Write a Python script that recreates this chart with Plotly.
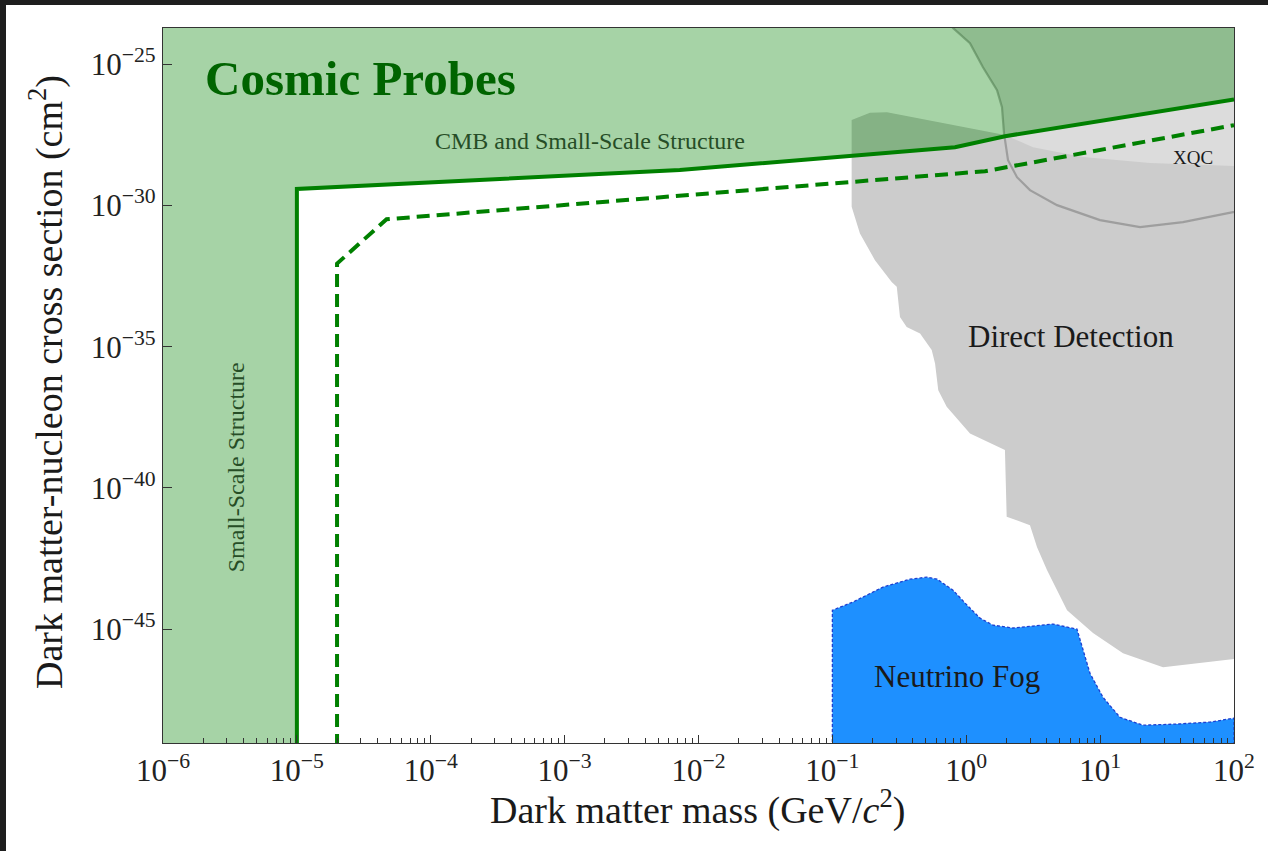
import plotly.graph_objects as go

# ---- data: log10(mass / GeV) and log10(cross section / cm^2) ----
# CMB + small-scale structure bound (solid)
cmb_logm = [-5.0, -2.14, -0.084, 0.29, 2.0]
cmb_logs = [-29.42, -28.75, -27.94, -27.55, -26.25]

# projected small-scale structure reach (dashed)
proj_logm = [-4.70, -4.33, 0.14, 2.0]
proj_logs = [-32.06, -30.49, -28.79, -27.16]

# XQC excluded-region edge
xqc_logm = [-0.16, -0.099, 0.028, 0.125, 0.230, 0.267, 0.282, 0.312, 0.379, 0.476,
            0.678, 0.999, 1.298, 1.619, 1.993, 2.2]
xqc_logs = [-23.30, -23.72, -24.26, -25.11, -25.92, -26.52, -27.44, -28.40, -29.00,
            -29.46, -29.99, -30.52, -30.77, -30.59, -30.24, -30.10]

# direct detection excluded region (closed outline)
dd_logm = [-0.856, -0.856, -0.794, -0.682, -0.557, -0.519, -0.495, -0.445, -0.345,
           -0.258, -0.233, -0.209, -0.146, 0.028, 0.289, 0.302, 0.476, 0.529, 0.603,
           0.753, 0.947, 1.171, 1.470, 1.724, 2.05, 2.05, 1.373, 0.872, 0.499, 0.289,
           -0.099, -0.592, -0.719]
dd_logs = [-26.98, -30.05, -30.99, -31.94, -32.71, -32.88, -33.95, -34.30, -34.53,
           -35.12, -35.60, -36.54, -37.13, -38.07, -38.66, -41.02, -41.32, -42.10,
           -42.91, -44.33, -45.14, -45.85, -46.35, -46.20, -46.03, -28.61, -28.50,
           -28.29, -27.94, -27.51, -27.16, -26.70, -26.72]

# neutrino fog upper edge
fog_logm = [-1.0, -0.846, -0.622, -0.42, -0.293, -0.218, -0.099, 0.006, 0.103, 0.2,
            0.349, 0.499, 0.648, 0.827, 0.872, 0.924, 1.021, 1.148, 1.32, 1.574,
            1.821, 2.0]
fog_logs = [-44.33, -44.04, -43.51, -43.23, -43.16, -43.23, -43.62, -44.15, -44.61,
            -44.86, -44.96, -44.89, -44.82, -45.0, -45.74, -46.56, -47.41, -48.12,
            -48.40, -48.36, -48.29, -48.15]

x_tick_exp = [-6, -5, -4, -3, -2, -1, 0, 1, 2]
y_tick_exp = [-45, -40, -35, -30, -25]

X_RANGE = [-6, 2]
Y_RANGE = [-49.03, -23.72]
FLOOR = 1e-52   # below the visible range
CEIL = 1e-20    # above the visible range
LEFT = 1e-8

FONT = "Liberation Serif"


def p10(vals):
    return [10.0 ** v for v in vals]


cmb_m, cmb_s = p10(cmb_logm), p10(cmb_logs)
proj_m, proj_s = p10(proj_logm), p10(proj_logs)
xqc_m, xqc_s = p10(xqc_logm), p10(xqc_logs)
dd_m, dd_s = p10(dd_logm), p10(dd_logs)
fog_m, fog_s = p10(fog_logm), p10(fog_logs)

fig = go.Figure()

# XQC region (light gray, under everything else)
fig.add_trace(go.Scatter(
    x=xqc_m + [xqc_m[-1], xqc_m[0]], y=xqc_s + [CEIL, CEIL],
    mode="lines", fill="toself", fillcolor="#dcdcdc", line=dict(width=0),
    hoverinfo="skip", showlegend=False))

# direct detection region
fig.add_trace(go.Scatter(
    x=dd_m + [dd_m[0]], y=dd_s + [dd_s[0]],
    mode="lines", fill="toself", fillcolor="#cccccc", line=dict(width=0),
    hoverinfo="skip", showlegend=False))

# XQC edge
fig.add_trace(go.Scatter(
    x=xqc_m, y=xqc_s, mode="lines",
    line=dict(color="rgba(120,120,120,0.55)", width=2.2),
    hoverinfo="skip", showlegend=False))

# cosmic probes excluded region (translucent green)
fig.add_trace(go.Scatter(
    x=[LEFT, cmb_m[0]] + cmb_m + [cmb_m[-1], LEFT],
    y=[FLOOR, FLOOR] + cmb_s + [CEIL, CEIL],
    mode="lines", fill="toself", fillcolor="rgba(0,128,0,0.35)", line=dict(width=0),
    hoverinfo="skip", showlegend=False))

# CMB + small-scale structure bound
fig.add_trace(go.Scatter(
    x=[cmb_m[0]] + cmb_m, y=[FLOOR] + cmb_s, mode="lines",
    line=dict(color="green", width=4),
    hoverinfo="skip", showlegend=False))

# projected reach
fig.add_trace(go.Scatter(
    x=[proj_m[0]] + proj_m, y=[FLOOR] + proj_s, mode="lines",
    line=dict(color="green", width=4, dash="13px,7px"),
    hoverinfo="skip", showlegend=False))

# neutrino fog
fig.add_trace(go.Scatter(
    x=[fog_m[0]] + fog_m + [fog_m[-1]], y=[FLOOR] + fog_s + [FLOOR],
    mode="lines", fill="toself", fillcolor="#1e90ff",
    line=dict(color="#1f3fd0", width=1.3, dash="3px,2px"),
    hoverinfo="skip", showlegend=False))


def tick_text(e):
    sign = "\u2212" if e < 0 else ""
    return f"10<sup>{sign}{abs(e)}</sup>"


minor_x = [k * 10.0 ** d for d in range(-6, 2) for k in range(2, 10)]

axis_common = dict(
    type="log", showgrid=False, zeroline=False,
    showline=True, linecolor="#333333", linewidth=1.3, mirror=True,
    ticks="inside", tickcolor="#333333", tickwidth=1.2,
    tickfont=dict(family=FONT, size=31, color="#222222"),
)

fig.update_xaxes(
    **axis_common, range=X_RANGE, ticklen=8,
    tickmode="array", tickvals=[10.0 ** e for e in x_tick_exp],
    ticktext=[tick_text(e) for e in x_tick_exp],
    minor=dict(ticks="inside", ticklen=4.5, tickcolor="#333333", tickwidth=1,
               tickmode="array", tickvals=minor_x, showgrid=False),
)
fig.update_yaxes(
    **axis_common, range=Y_RANGE, ticklen=9,
    tickmode="array", tickvals=[10.0 ** e for e in y_tick_exp],
    ticktext=[tick_text(e) for e in y_tick_exp],
)

labels = [
    dict(text="<b>Cosmic Probes</b>", x=-5.70, y=-25.5, xanchor="left",
         font=dict(family=FONT, size=49, color="#006400")),
    dict(text="CMB and Small-Scale Structure", x=-2.81, y=-27.73,
         font=dict(family=FONT, size=24, color="#264d26")),
    dict(text="Small-Scale Structure", x=-5.455, y=-39.27, textangle=-90,
         font=dict(family=FONT, size=24, color="#264d26")),
    dict(text="Direct Detection", x=0.782, y=-34.63,
         font=dict(family=FONT, size=31, color="#1a1a1a")),
    dict(text="Neutrino Fog", x=-0.069, y=-46.66,
         font=dict(family=FONT, size=31, color="#1a1a1a")),
    dict(text="XQC", x=1.694, y=-28.29,
         font=dict(family=FONT, size=19, color="#1a1a1a")),
]
for lab in labels:
    lab.setdefault("xanchor", "center")
    fig.add_annotation(xref="x", yref="y", yanchor="middle", showarrow=False, **lab)

# axis titles
fig.add_annotation(
    text="Dark matter mass (GeV/<i>c</i><sup>2</sup>)", xref="paper", yref="paper",
    x=(697 - 163) / 1071, y=(743 - 808) / 715, xanchor="center", yanchor="middle",
    showarrow=False, font=dict(family=FONT, size=38, color="#1a1a1a"))
fig.add_annotation(
    text="Dark matter-nucleon cross section (cm<sup>2</sup>)", xref="paper", yref="paper",
    x=(46 - 163) / 1071, y=(743 - 382) / 715, xanchor="center", yanchor="middle",
    textangle=-90, showarrow=False, font=dict(family=FONT, size=38, color="#1a1a1a"))

# dark window edges along the top and left
dark = "#1e1e1e"
fig.add_shape(type="rect", xref="paper", yref="paper", x0=-0.16, x1=(6 - 163) / 1071,
              y0=-0.2, y1=1.1, fillcolor=dark, line=dict(width=0), layer="above")
fig.add_shape(type="rect", xref="paper", yref="paper", x0=-0.16, x1=1.1,
              y0=(743 - 5) / 715, y1=1.1, fillcolor=dark, line=dict(width=0), layer="above")

fig.update_layout(
    width=1268, height=851,
    margin=dict(l=163, r=34, t=28, b=108),
    paper_bgcolor="white", plot_bgcolor="white",
    font=dict(family=FONT),
    showlegend=False,
)

fig.write_html("out.html", config={"displayModeBar": False})
